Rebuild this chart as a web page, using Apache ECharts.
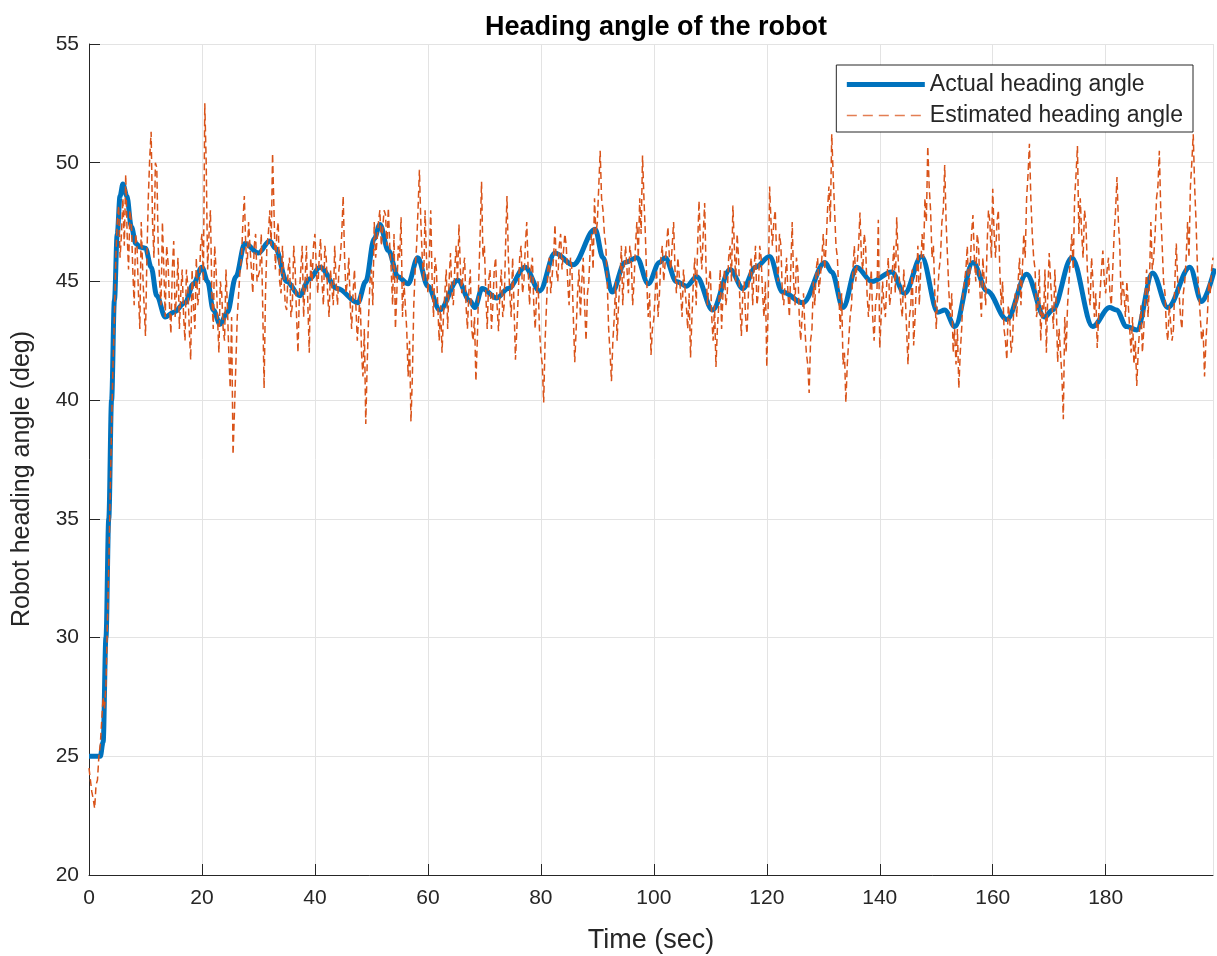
<!DOCTYPE html>
<html>
<head>
<meta charset="utf-8">
<script src="https://cdn.jsdelivr.net/npm/echarts@6/dist/echarts.min.js"></script>
<style>
html,body{margin:0;padding:0;background:#fff;}
#chart{width:1217px;height:956px;}
</style>
</head>
<body>
<div id="chart"></div>
<script>
// ---- data ----
const titleText = "Heading angle of the robot";
const xAxisName = "Time (sec)";
const yAxisName = "Robot heading angle (deg)";
const seriesNames = ["Actual heading angle", "Estimated heading angle"];

// Actual heading angle: time (s) and angle (deg) at read-off points
const actualTime = [0,2,2.5,3,3.5,4,4.5,5,5.5,6,6.7,7.5,8.3,9,10,11,12,13.5,15,17,18.5,20,21,22,23.2,24.5,26,27.6,30,32,33,35,37.3,39,40.9,44,47.6,49,50.5,51.5,53,54.7,56.5,58.2,60,62.1,65.3,67.4,68.3,69.6,72.2,74.2,77.2,79.8,82.5,85.7,89.6,91,92.6,94.9,97,99,101,102,104,105.8,107.6,110.4,113.5,115.8,118,120.5,122.8,126.4,130.3,131.5,133.5,135.9,138.6,142.1,144.4,147.4,150.3,151.5,153.3,156.5,159,162.5,166,169.2,170.6,174,177.7,180.7,181.9,183.7,185.5,188.3,191,194.9,197,199.3];
const actualAngle = [25,25,25.6,30,35,40,44.2,47,48.6,49.1,48.6,47.3,46.6,46.45,46.4,45.6,44.4,43.5,43.7,44.1,44.9,45.6,45.0,43.8,43.2,43.7,45.2,46.6,46.2,46.7,46.4,45.0,44.4,45.1,45.6,44.7,44.1,45.0,46.8,47.4,46.3,45.2,44.9,46.0,44.8,43.8,45.05,44.2,43.9,44.7,44.3,44.7,45.6,44.6,46.2,45.7,47.2,46.0,44.55,45.8,46.0,44.9,45.8,46.0,45.0,44.8,45.2,43.8,45.5,44.7,45.6,46.05,44.55,44.1,45.8,45.4,43.9,45.6,45.0,45.4,44.5,46.05,43.7,43.8,43.1,45.8,44.6,43.4,45.3,43.5,43.8,46.0,43.1,43.9,43.8,43.1,42.95,45.35,43.9,45.6,44.15,45.55];

// Estimated heading angle, samples at t = 0, 0.5, 1.0, ... (estStep)
const estStep = 0.5;
const estAngle = [
24.5,23.5,22.8,24.0,25.5,27.5,28.0,33.0,39.0,43.5,47.5,46.0,48.5,49.5,45.5,47.5,44.0,46.5,43.0,45.5,
42.7,48.5,51.3,46.0,49.8,45.0,47.5,43.5,45.8,42.8,46.7,44.5,43.0,45.5,42.5,44.8,41.7,44.0,46.0,44.5,
47.0,52.5,45.5,48.0,43.0,45.5,42.0,44.5,42.5,44.0,40.5,37.7,41.5,44.5,46.0,48.6,45.5,47.5,44.5,47.0,
45.0,47.0,40.5,46.5,48.0,50.4,45.5,47.5,44.5,46.5,43.8,46.0,44.0,45.5,42.0,45.5,43.5,46.5,42.0,45.0,
47.0,44.5,46.8,44.0,46.0,43.5,45.5,46.5,44.0,46.0,48.6,44.5,46.0,43.0,45.5,42.5,44.5,41.0,39.0,43.5,
45.5,47.5,46.0,48.0,46.5,47.8,48.1,45.5,47.0,44.5,46.0,43.5,45.0,41.0,39.1,44.0,46.5,49.7,46.0,48.0,
44.5,48.0,43.5,45.5,42.5,42.0,44.5,43.0,46.2,44.0,46.5,47.4,44.5,46.0,43.0,45.5,42.5,40.8,45.0,49.2,
46.5,43.0,45.5,44.0,46.0,42.9,45.5,44.0,48.6,44.5,46.0,41.7,44.5,46.5,45.0,47.5,44.0,46.0,43.0,45.0,
42.0,39.9,44.0,46.0,44.5,47.4,45.0,47.0,45.5,46.5,44.0,45.5,41.6,44.5,43.5,46.0,42.5,45.0,47.0,48.5,
47.5,50.5,48.0,46.5,43.0,40.8,43.5,42.5,45.0,44.0,46.5,44.5,46.0,45.0,47.5,48.5,50.3,47.0,43.5,41.9,
43.4,45.5,44.5,46.5,45.0,47.3,45.5,47.5,44.5,46.0,43.5,45.5,43.0,41.8,45.0,44.0,48.4,45.5,48.3,44.0,
45.5,42.5,41.4,44.0,43.0,45.5,44.5,46.5,48.2,45.0,46.0,42.7,45.0,42.8,45.5,44.0,46.5,44.5,46.0,43.5,
41.4,49.0,46.5,48.0,45.0,46.5,44.0,46.0,43.5,47.5,44.0,45.5,42.5,44.5,42.0,40.3,43.0,44.0,46.0,44.5,
47.0,46.5,49.0,51.2,48.0,46.0,43.0,41.5,39.9,42.5,44.0,46.5,45.0,47.9,45.5,46.5,43.5,45.5,42.5,44.5,
42.2,45.0,43.5,46.0,44.5,46.5,47.7,45.0,43.5,44.5,41.5,44.0,42.3,45.0,44.0,47.0,48.5,50.7,48.0,46.5,
43.0,45.5,47.5,49.9,46.0,43.5,42.0,41.5,40.5,43.0,44.5,46.5,45.5,47.8,45.0,46.5,43.5,45.0,46.5,47.5,
48.9,46.0,48.0,44.0,43.0,41.7,43.5,42.5,44.5,45.0,44.0,47.0,48.5,50.8,47.0,45.5,44.0,42.5,43.5,42.0,
46.2,44.0,45.5,41.6,43.0,39.2,42.0,45.0,47.0,48.5,50.7,48.5,46.0,47.5,44.5,46.0,43.5,42.2,44.5,46.3,
44.5,46.0,44.0,47.0,49.4,46.5,45.0,43.5,44.0,42.0,41.5,40.6,43.0,42.0,44.5,43.5,47.5,46.0,48.5,50.5,
46.5,44.5,42.5,44.0,43.0,46.6,44.5,43.0,45.0,47.5,49.0,51.2,47.5,44.5,42.5,41.0,43.5,44.5,46.0
];
// Estimated heading angle, in-between samples at t = 0.25, 0.75, 1.25, ...
const estAngleMid = [
24.0,23.2,23.8,25.0,26.5,27.0,30.5,36.0,41.5,46.0,48.2,47.0,46.5,47.0,48.0,45.5,47.0,44.5,47.5,44.0,
46.0,50.2,47.5,50.0,46.5,44.0,45.5,46.5,44.0,45.5,43.5,46.0,44.5,43.5,45.5,43.0,45.5,43.0,44.0,46.5,
45.0,50.0,47.0,44.5,46.5,43.5,45.0,43.0,45.5,42.0,43.5,39.5,43.5,45.5,47.5,46.5,47.5,45.5,46.5,45.0,
45.5,44.0,44.5,47.0,46.5,48.0,47.0,45.0,46.5,44.0,45.5,43.5,46.5,43.5,44.5,46.5,45.0,44.0,46.0,46.5,
45.5,46.0,45.0,46.5,44.5,45.5,44.0,45.0,45.5,47.0,46.0,45.0,44.0,44.5,44.0,43.5,42.0,43.0,41.5,45.0,
44.0,46.0,47.5,46.5,48.0,46.5,46.5,44.0,43.0,46.5,47.7,45.0,43.0,42.5,41.0,45.5,48.0,47.5,45.0,46.0,
46.0,45.0,46.0,44.0,44.0,43.5,45.5,45.0,44.5,45.5,45.0,45.5,45.5,44.0,44.5,43.0,43.5,42.5,47.0,46.0,
44.5,45.0,43.0,45.5,44.0,44.5,43.5,46.5,46.0,43.5,44.0,43.0,46.0,44.5,46.5,45.5,45.5,44.0,44.5,43.0,
41.5,42.5,45.5,44.5,46.0,45.5,46.5,45.5,47.0,45.0,46.0,43.5,43.0,45.5,45.0,44.0,44.5,46.5,45.5,47.0,
49.0,48.5,47.0,45.0,42.0,42.5,45.0,44.0,46.5,45.5,45.5,46.5,44.0,46.5,46.0,47.0,48.5,45.0,44.5,43.0,
44.5,43.5,46.0,45.0,46.5,46.0,46.5,45.5,46.0,44.5,45.5,44.0,44.5,43.5,46.0,46.5,46.5,47.0,45.5,45.0,
43.5,44.0,43.0,45.5,44.5,44.0,46.0,45.0,46.5,47.0,44.0,44.5,43.5,44.5,46.0,45.5,44.0,46.5,44.5,45.0,
44.0,47.5,47.5,46.0,47.0,44.5,45.0,44.5,45.5,45.0,46.0,43.5,43.5,43.0,41.5,42.5,45.0,45.5,44.5,46.0,
45.5,48.0,47.5,49.5,46.5,44.5,44.5,42.0,41.5,43.5,45.5,45.0,46.5,46.0,47.0,44.5,44.5,43.5,44.0,47.6,
43.5,44.0,45.0,44.0,45.5,44.5,46.0,44.0,45.5,43.0,43.5,45.5,43.5,46.5,45.5,46.0,47.5,49.0,46.0,44.5,
44.5,46.0,48.0,47.5,44.5,44.5,43.0,43.0,42.0,44.5,45.5,44.5,47.0,46.0,47.0,44.5,46.0,44.0,48.0,46.0,
47.0,47.5,45.5,45.0,42.5,44.0,42.0,44.0,43.5,46.0,45.5,46.0,49.5,48.5,46.0,43.5,45.5,44.0,45.5,44.5,
45.0,43.0,44.0,43.0,41.0,43.5,44.0,46.0,45.5,49.5,47.0,47.0,48.0,45.5,44.0,45.0,44.5,43.5,45.5,45.0,
45.5,44.5,45.5,48.0,47.5,44.0,44.5,45.0,43.0,43.5,42.5,42.0,44.0,43.0,45.5,45.0,45.5,47.0,49.0,48.0,
45.0,43.0,44.0,42.5,45.0,45.0,43.5,44.5,46.0,46.0,50.0,49.0,45.5,43.5,43.0,42.5,45.0,45.5
];

// axis ranges / ticks
const xMin = 0, xMax = 199, xInterval = 20;
const yMin = 20, yMax = 55, yInterval = 5;

// ---- build ----
const actualData = actualTime.map((t, i) => [t, actualAngle[i]]);
const estData = [];
estAngle.forEach((v, i) => {
  estData.push([i * estStep, v]);
  if (i < estAngleMid.length) estData.push([i * estStep + estStep / 2, estAngleMid[i]]);
});

const FONT = "'Liberation Sans', Arial, Helvetica, sans-serif";
const TXT = '#262626';
const BLUE = '#0072BD', ORANGE = '#D95319';

const chart = echarts.init(document.getElementById('chart'), null, {renderer: 'canvas'});
chart.setOption({
  animation: false,
  backgroundColor: '#ffffff',
  title: {
    text: titleText,
    left: 651, top: 9, textAlign: 'center',
    textStyle: {fontFamily: FONT, fontWeight: 'bold', fontSize: 27, color: '#000'}
  },
  grid: {left: 89, right: 4, top: 44, bottom: 81, containLabel: false, outerBoundsMode: 'none'},
  legend: {
    orient: 'vertical',
    right: 24, top: 65,
    padding: [8, 10, 5, 8],
    itemGap: 8,
    itemWidth: 78, itemHeight: 24,
    backgroundColor: '#fff',
    borderColor: TXT, borderWidth: 1,
    itemStyle: {opacity: 0},
    textStyle: {fontFamily: FONT, fontSize: 23, color: TXT},
    data: [
      {name: seriesNames[0], lineStyle: {color: BLUE, width: 5, type: 'solid'}},
      {name: seriesNames[1], lineStyle: {color: ORANGE, width: 1.4, type: [10, 6], opacity: 0.75}}
    ]
  },
  graphic: [{
    type: 'text', x: 22, y: 479, rotation: Math.PI / 2,
    style: {text: yAxisName, fontFamily: FONT, fontSize: 25, fill: TXT, align: 'center', verticalAlign: 'middle'}
  }],
  xAxis: {
    type: 'value', min: xMin, max: xMax, interval: xInterval,
    name: xAxisName, nameLocation: 'middle', nameGap: 52,
    nameTextStyle: {fontFamily: FONT, fontSize: 27, color: TXT},
    axisLine: {show: true, lineStyle: {color: TXT, width: 1}},
    axisTick: {show: true, inside: true, length: 11, lineStyle: {color: TXT}},
    axisLabel: {fontFamily: FONT, fontSize: 21, color: TXT, margin: 13, showMaxLabel: false},
    splitLine: {show: true, lineStyle: {color: '#e3e3e3', width: 1}}
  },
  yAxis: {
    type: 'value', min: yMin, max: yMax, interval: yInterval,
    axisLine: {show: true, lineStyle: {color: TXT, width: 1}},
    axisTick: {show: true, inside: true, length: 11, lineStyle: {color: TXT}},
    axisLabel: {fontFamily: FONT, fontSize: 21, color: TXT, margin: 10},
    splitLine: {show: true, lineStyle: {color: '#e3e3e3', width: 1}}
  },
  series: [
    {
      name: seriesNames[0], type: 'line', data: actualData,
      symbol: 'none', smooth: 0.35, smoothMonotone: 'x',
      lineStyle: {color: BLUE, width: 5},
      itemStyle: {color: BLUE}, z: 2
    },
    {
      name: seriesNames[1], type: 'line', data: estData,
      symbol: 'none',
      lineStyle: {color: ORANGE, width: 1.5, type: [7, 4]},
      itemStyle: {color: ORANGE}, z: 3
    }
  ]
});
</script>
</body>
</html>
